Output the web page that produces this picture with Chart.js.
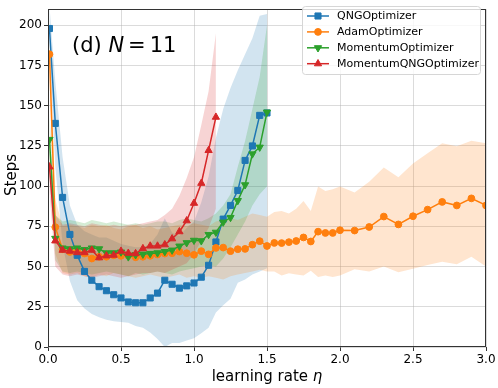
<!DOCTYPE html>
<html><head><meta charset="utf-8">
<script src="https://cdn.jsdelivr.net/npm/chart.js@4.4.0/dist/chart.umd.min.js"></script>
<style>html,body{margin:0;padding:0;background:#fff;}canvas{display:block;}</style>
</head><body>
<canvas id="c" width="498" height="388"></canvas>
<script>
// ---- data ----
const lrQNG = [0.01,0.05,0.1,0.15,0.2,0.25,0.3,0.35,0.4,0.45,0.5,0.55,0.6,0.65,0.7,0.75,0.8,0.85,0.9,0.95,1.0,1.05,1.1,1.15,1.2,1.25,1.3,1.35,1.4,1.45,1.5];
const lrMom = [0.01,0.05,0.1,0.15,0.2,0.25,0.3,0.35,0.4,0.45,0.5,0.55,0.6,0.65,0.7,0.75,0.8,0.85,0.9,0.95,1.0,1.05,1.1,1.15,1.2,1.25,1.3,1.35,1.4,1.45,1.5];
const lrMQNG = [0.01,0.05,0.1,0.15,0.2,0.25,0.3,0.35,0.4,0.45,0.5,0.55,0.6,0.65,0.7,0.75,0.8,0.85,0.9,0.95,1.0,1.05,1.1,1.15];
const lrAdam = [0.01,0.05,0.1,0.15,0.2,0.25,0.3,0.35,0.4,0.45,0.5,0.55,0.6,0.65,0.7,0.75,0.8,0.85,0.9,0.95,1.0,1.05,1.1,1.15,1.2,1.25,1.3,1.35,1.4,1.45,1.5,1.55,1.6,1.65,1.7,1.75,1.8,1.85,1.9,1.95,2.0,2.1,2.2,2.3,2.4,2.5,2.6,2.7,2.8,2.9,3.0];

const qngMean = [198,139,93,70,57,47,41.5,37.5,35,32.5,30.5,28,27.5,27.5,30.5,33.5,41.5,39,36.6,38,39.8,43.4,50.8,65.3,79.5,88,97.3,116,125,144,145.5];
const qngHi   = [212,165,118,88,76,72,70,68,68,66,64,63,62,62,64,70,80,71,69,74,78,90,106,130,148,161,172,182,192,206,207];
const qngLo   = [185,112,64,41,29,24,20.5,18.5,17,16,15.5,15,13,12,9,5,0,2.5,2.5,4,5.5,8.5,12,21.5,26,30,40,42,45,47,49];

const adamMean = [182,74.5,60.8,59.1,60,58.1,55,56.1,56.1,57,56.7,56.8,55.8,56.1,56.7,57.5,58.1,58.3,59.3,58.3,57.3,59.6,57.6,61.6,61.8,59.6,60.8,61,63.6,65.8,62.8,64.7,64.6,65.2,65.9,68.1,65.6,71.7,70.9,70.9,72.6,72.4,74.6,81.1,76.2,81.3,85.4,90.2,88,92.4,88];
const adamHi   = [198,92,75,76,75,74,76,75,76,74,73,75,76,74,75,73,74,75,76,75,77,76,75,78,79,80,79,81,83,82,81,84,84.6,83,86,90.7,84.6,99.8,97,98,99.8,96,102.8,111.6,105.5,114,120.5,126.6,124.8,128.2,126.6];
const adamLo   = [166,58,46,45,46,44,43,45,44,46,45,44,43,44,45,44,43,44,45,43,44,43,44,43,42,44,45,46,47,48,47,47,44.5,45.9,45,44.5,47.4,43.5,44.5,43.5,44.5,48.4,47,50,46.5,48.6,51,53,51.4,56.1,50];

const momMean = [129,67.5,61.5,61,61.5,60.5,61.5,61,58.5,58.5,59,56,57.3,57.7,58.1,58.5,59.3,60.2,62.7,64.8,66.3,66,69.9,71.3,77.6,80.5,91,100.8,120,124.2,146];
const momHi   = [145,82,78,79,78,77,79,78,77,78,77,76,77,76,77,78,78,77,79,80,79,78,80,83,88,95,112,128,148,168,200];
const momLo   = [113,54,47,46,47,46,45,46,47,46,45,44,46,45,46,47,46,45,47,48,49,50,51,50,55,62,70,78,88,95,100];

const mqngMean = [112,66,60.2,59.6,58.7,58.7,60.2,55.5,56.7,57.1,59.6,58.3,58.1,61.2,62.8,62.8,63.6,67.3,71.7,78.5,89.4,101.8,122.2,142.9];
const mqngHi   = [128,82,76,77,76,75,77,76,75,76,75,76,76,77,78,79,82,86,94,105,118,138,159,195];
const mqngLo   = [96,50,45,44,45,44,43,44,45,44,43,44,45,46,46,47,46,48,50,52,58,66,74,86];

const seriesNames = ['QNGOptimizer','AdamOptimizer','MomentumOptimizer','MomentumQNGOptimizer'];
const xTicks = [0,0.5,1,1.5,2,2.5,3];
const yTicks = [0,25,50,75,100,125,150,175,200];

// ---- styling ----
const FONT = "'DejaVu Sans', 'Liberation Sans', sans-serif";
const cols = ['#1f77b4','#ff7f0e','#2ca02c','#d62728'];
function rgba(hex,a){const n=parseInt(hex.slice(1),16);return `rgba(${n>>16&255},${n>>8&255},${n&255},${a})`;}
function pts(xs,ys){return xs.map((x,i)=>({x:x,y:ys[i]}));}

const S = [
  {xs:lrQNG, m:qngMean, hi:qngHi, lo:qngLo, style:'rect', r:4.3, rot:0},
  {xs:lrAdam, m:adamMean, hi:adamHi, lo:adamLo, style:'circle', r:3.4, rot:0},
  {xs:lrMom, m:momMean, hi:momHi, lo:momLo, style:'triangle', r:4.2, rot:180},
  {xs:lrMQNG, m:mqngMean, hi:mqngHi, lo:mqngLo, style:'triangle', r:4.2, rot:0}
];

const datasets = [];
S.forEach((s,i)=>{
  datasets.push({
    label: seriesNames[i], data: pts(s.xs,s.m), borderColor: cols[i], backgroundColor: cols[i],
    borderWidth: 1.5, pointStyle: s.style, pointRadius: s.r, pointRotation: s.rot,
    pointBorderWidth: 1, pointBorderColor: cols[i], pointBackgroundColor: cols[i],
    fill: false, tension: 0, order: 4 - i
  });
});
S.forEach((s,i)=>{
  const upIdx = datasets.length;
  datasets.push({label:'_hi'+i, data: pts(s.xs,s.hi), borderColor:'transparent', borderWidth:0, pointRadius:0, fill:false, order: 20 - 2*i, tension:0});
  datasets.push({label:'_lo'+i, data: pts(s.xs,s.lo), borderColor:'transparent', borderWidth:0, pointRadius:0,
    fill: upIdx, backgroundColor: rgba(cols[i],0.2), order: 19 - 2*i, tension:0});
});

const framePlugin = {
  id:'frame',
  afterDatasetsDraw(chart){
    const {ctx, chartArea:a} = chart;
    ctx.save(); ctx.strokeStyle='#333'; ctx.lineWidth=1;
    ctx.strokeRect(Math.round(a.left)+0.5, Math.round(a.top)+0.5, Math.round(a.right-a.left)-1, Math.round(a.bottom-a.top)-1);
    ctx.restore();
  },
  afterDraw(chart){
    const ctx = chart.ctx;
    ctx.save();
    // panel title
    ctx.fillStyle='#000'; ctx.textBaseline='alphabetic'; ctx.textAlign='left';
    let x = 72; const yb = 52;
    ctx.font = `21px ${FONT}`; ctx.fillText('(d) ', x, yb); x += ctx.measureText('(d) ').width;
    ctx.font = `italic 21px ${FONT}`; ctx.fillText('N', x, yb); x += ctx.measureText('N').width + 4;
    ctx.font = `21px ${FONT}`; ctx.fillText('=', x, yb); x += ctx.measureText('=').width + 4;
    ctx.fillText('11', x, yb);
    // x-axis label
    ctx.font = `15px ${FONT}`;
    const t1 = 'learning rate ', w1 = ctx.measureText(t1).width;
    ctx.font = `italic 15px ${FONT}`; const w2 = ctx.measureText('η').width;
    let xs = 267 - (w1 + w2)/2;
    ctx.font = `15px ${FONT}`; ctx.fillText(t1, xs, 381);
    ctx.font = `italic 15px ${FONT}`; ctx.fillText('η', xs + w1, 381);
    // y-axis label
    ctx.translate(16, 175); ctx.rotate(-Math.PI/2); ctx.textAlign='center';
    ctx.font = `15px ${FONT}`; ctx.fillText('Steps', 0, 0);
    ctx.restore();

    // legend
    ctx.save();
    const bx=302.5, by=6.5, bw=178, bh=68, rr=3;
    ctx.beginPath();
    ctx.moveTo(bx+rr,by); ctx.lineTo(bx+bw-rr,by); ctx.quadraticCurveTo(bx+bw,by,bx+bw,by+rr);
    ctx.lineTo(bx+bw,by+bh-rr); ctx.quadraticCurveTo(bx+bw,by+bh,bx+bw-rr,by+bh);
    ctx.lineTo(bx+rr,by+bh); ctx.quadraticCurveTo(bx,by+bh,bx,by+bh-rr);
    ctx.lineTo(bx,by+rr); ctx.quadraticCurveTo(bx,by,bx+rr,by); ctx.closePath();
    ctx.fillStyle='rgba(255,255,255,0.8)'; ctx.fill();
    ctx.strokeStyle='#d6d6d6'; ctx.lineWidth=1; ctx.stroke();
    for(let i=0;i<4;i++){
      const ds = chart.data.datasets[i];
      const y = 16 + i*15.9;
      ctx.strokeStyle = ds.borderColor; ctx.lineWidth = 1.5;
      ctx.beginPath(); ctx.moveTo(307,y); ctx.lineTo(329,y); ctx.stroke();
      ctx.fillStyle = ds.borderColor; ctx.strokeStyle = ds.borderColor; ctx.lineWidth = 1;
      Chart.helpers.drawPoint(ctx, {pointStyle: ds.pointStyle, radius: ds.pointRadius, rotation: ds.pointRotation, borderWidth:1}, 318, y);
      ctx.fillStyle='#000'; ctx.font=`11px ${FONT}`; ctx.textBaseline='middle'; ctx.textAlign='left';
      ctx.fillText(ds.label, 337, y+0.5);
    }
    ctx.restore();
  }
};

new Chart(document.getElementById('c'), {
  type: 'line',
  data: { datasets },
  options: {
    responsive: false, animation: false, devicePixelRatio: 1,
    layout: { padding: { top: 3, right: 12, left: 0, bottom: 0 } },
    plugins: { legend: { display: false }, tooltip: { enabled: false }, title: { display: false } },
    scales: {
      x: {
        type: 'linear', min: 0, max: 3,
        afterBuildTicks: (sc) => { sc.ticks = xTicks.map(v => ({ value: v })); },
        afterFit: (sc) => { sc.height = 41; },
        ticks: { font: { family: FONT, size: 12 }, color: '#000', padding: 2, maxRotation: 0, autoSkip: false,
                 callback: (v) => Number(v).toFixed(1) },
        grid: { color: 'rgba(176,176,176,0.45)', lineWidth: 1, tickLength: 4, tickColor: '#333' },
        border: { display: false }
      },
      y: {
        type: 'linear', min: 0, max: 210,
        afterBuildTicks: (sc) => { sc.ticks = yTicks.map(v => ({ value: v })); },
        afterFit: (sc) => { sc.width = 48; },
        ticks: { font: { family: FONT, size: 12 }, color: '#000', padding: 2, autoSkip: false },
        grid: { color: 'rgba(176,176,176,0.45)', lineWidth: 1, tickLength: 4, tickColor: '#333' },
        border: { display: false }
      }
    }
  },
  plugins: [framePlugin]
});
</script>
</body></html>
